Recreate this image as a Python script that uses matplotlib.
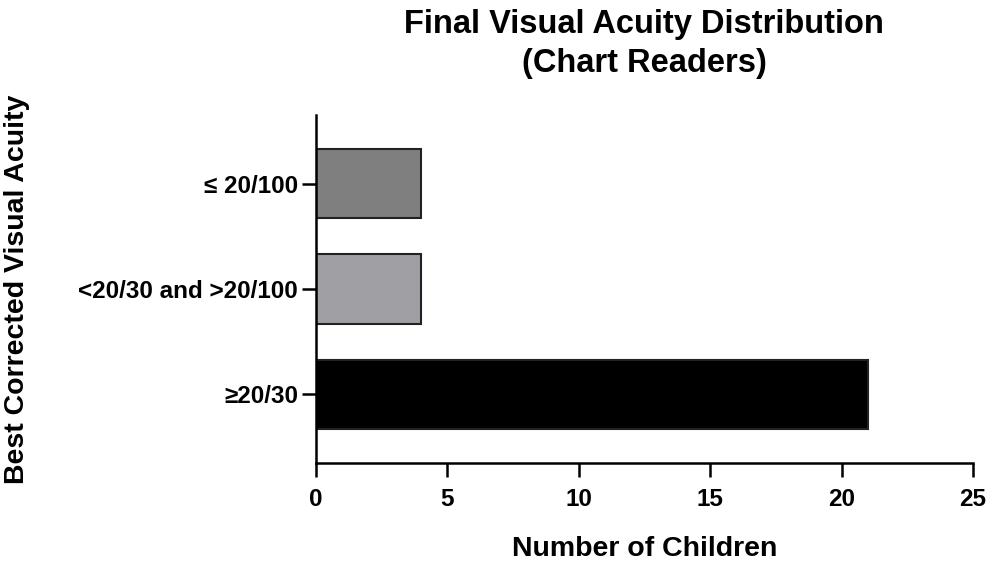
import matplotlib.pyplot as plt

# data
categories = ['≥20/30', '<20/30 and >20/100', '≤ 20/100']
counts = [21, 4, 4]
bar_colors = ['#000000', '#a09fa4', '#7f7f7f']
xticks = [0, 5, 10, 15, 20, 25]

plt.rcParams['font.family'] = ['Liberation Sans', 'DejaVu Sans']
plt.rcParams['font.weight'] = 'bold'

fig = plt.figure(figsize=(9.92, 5.61), dpi=100)
ax = fig.add_axes([316/992, 1 - 463/561, (973 - 316)/992, (463 - 115)/561])

ax.barh(range(len(categories)), counts, height=0.66, color=bar_colors,
        edgecolor='#222222', linewidth=1.5)

ax.set_xlim(0, 25)
ax.set_ylim(-0.65, 2.65)
ax.set_xticks(xticks)
ax.set_yticks(range(len(categories)))
ax.set_yticklabels(categories)

for s in ['top', 'right']:
    ax.spines[s].set_visible(False)
for s in ['left', 'bottom']:
    ax.spines[s].set_linewidth(1.8)

ax.tick_params(axis='both', length=10, width=1.8, labelsize=17.5)
ax.tick_params(axis='y', pad=3)
ax.tick_params(axis='x', pad=8)
for lab in ax.get_xticklabels() + ax.get_yticklabels():
    lab.set_fontweight('bold')

ax.set_xlabel('Number of Children', fontsize=20.5, fontweight='bold', labelpad=18)
fig.text(17/992, 1 - 289/561, 'Best Corrected Visual Acuity', rotation=90,
         ha='center', va='center', fontsize=20.5, fontweight='bold')
fig.text(644/992, 1 - 44/561, 'Final Visual Acuity Distribution\n(Chart Readers)',
         ha='center', va='center', fontsize=23.5, fontweight='bold', linespacing=1.35)

fig.savefig('out.png', dpi=100)
